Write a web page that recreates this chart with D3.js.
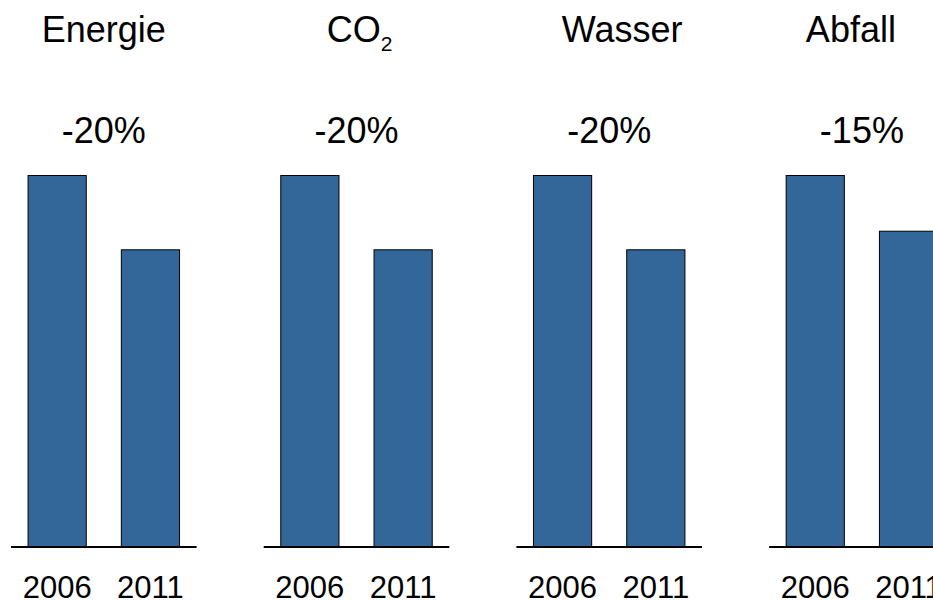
<!DOCTYPE html>
<html>
<head>
<meta charset="utf-8">
<script src="https://cdn.jsdelivr.net/npm/d3@7"></script>
<style>
  html, body { margin: 0; padding: 0; background: #fff; }
  svg { display: block; }
  text { font-family: "Liberation Sans", Arial, Helvetica, sans-serif; fill: #000; }
</style>
</head>
<body>
<script>
// Resource indicators, 2006 level = 100
const titleMain = ["Energie", "CO", "Wasser", "Abfall"];
const titleSub = ["", "2", "", ""];
const years = ["2006", "2011"];
const values2006 = [100, 100, 100, 100];
const values2011 = [80, 80, 80, 85];

// Layout
const W = 933, H = 600;
const panelX0 = 11, panelPitch = 252.7, panelW = 185.6;
const titleShift = [0, 3, 13, -11];
const barFill = "#336699";

const svg = d3.select("body").append("svg")
  .attr("width", W).attr("height", H);

const y = d3.scaleLinear().domain([0, 100]).range([547, 175.5]);
const x = d3.scaleBand().domain(years).range([0, panelW])
  .paddingInner(0.376).paddingOuter(0.183);

titleMain.forEach((name, i) => {
  const vals = [values2006[i], values2011[i]];
  const g = svg.append("g")
    .attr("transform", `translate(${panelX0 + i * panelPitch},0)`);
  const cx = panelW / 2;

  // title
  const t = g.append("text")
    .attr("x", cx + titleShift[i]).attr("y", 42)
    .attr("text-anchor", "middle")
    .style("font-size", "36px")
    .text(name);
  if (titleSub[i]) {
    t.append("tspan")
      .attr("dy", 9)
      .style("font-size", "21px")
      .text(titleSub[i]);
  }

  // change label
  const pct = Math.round((vals[1] / vals[0] - 1) * 100);
  g.append("text")
    .attr("x", cx).attr("y", 142.5)
    .attr("text-anchor", "middle")
    .style("font-size", "36px")
    .text(pct + "%");

  // bars
  g.selectAll("rect").data(years.map((yr, j) => ({ yr, v: vals[j] })))
    .join("rect")
    .attr("x", d => x(d.yr))
    .attr("width", x.bandwidth())
    .attr("y", d => y(d.v))
    .attr("height", d => y(0) - y(d.v))
    .attr("fill", barFill)
    .attr("stroke", "#000")
    .attr("stroke-width", 1);

  // baseline
  g.append("line")
    .attr("x1", 0).attr("x2", panelW)
    .attr("y1", y(0)).attr("y2", y(0))
    .attr("stroke", "#000").attr("stroke-width", 2);

  // year labels
  g.selectAll("text.year").data(years)
    .join("text")
    .attr("class", "year")
    .attr("x", d => x(d) + x.bandwidth() / 2)
    .attr("y", 597.5)
    .attr("text-anchor", "middle")
    .style("font-size", "31px")
    .text(d => d);
});
</script>
</body>
</html>
